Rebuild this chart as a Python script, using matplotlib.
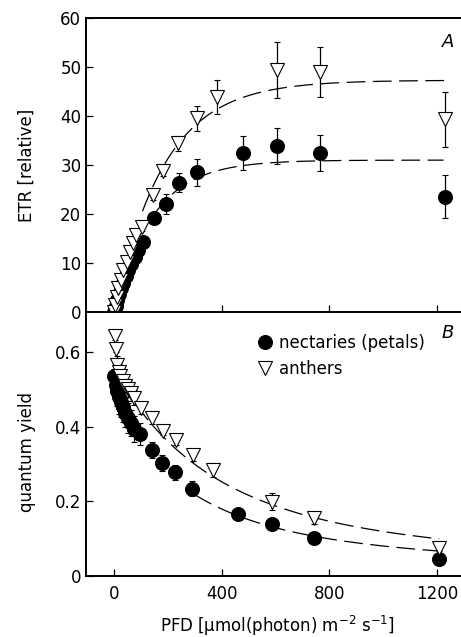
import numpy as np
import matplotlib
matplotlib.use("Agg")
import matplotlib.pyplot as plt

# ---------------- data ----------------
# Panel A: ETR vs PFD
etr_pfd_nect = [0, 6, 12, 18, 25, 33, 42, 52, 63, 76, 90, 108, 148, 191, 242, 309, 480, 604, 765, 1230]
etr_nect = [0, 1.2, 2.4, 3.6, 4.8, 6.0, 7.3, 8.5, 9.8, 11.2, 12.6, 14.2, 19.1, 22.1, 26.4, 28.5, 32.4, 33.9, 32.5, 23.5]
etr_nect_sd = [0.2, 0.3, 0.3, 0.4, 0.4, 0.5, 0.5, 0.6, 0.7, 0.7, 0.8, 0.9, 1.0, 2.0, 2.0, 2.7, 3.5, 3.6, 3.7, 4.4]

etr_pfd_anth = [0, 3, 9, 15, 24, 34, 46, 58, 71, 81, 102, 143, 182, 238, 309, 383, 606, 765, 1230]
etr_anth = [0, 1.4, 3.1, 4.8, 6.5, 8.6, 10.3, 12.3, 14.0, 15.7, 17.4, 23.8, 28.8, 34.4, 39.5, 43.9, 49.4, 48.9, 39.3]
etr_anth_sd = [0.2, 0.3, 0.3, 0.4, 0.5, 0.5, 0.6, 0.6, 0.7, 0.7, 0.8, 0.9, 1.0, 1.6, 2.5, 3.5, 5.8, 5.1, 5.6]

# Panel B: quantum yield vs PFD
qy_pfd_nect = [0, 5, 11, 17, 24, 32, 41, 51, 62, 75, 96, 139, 177, 226, 290, 461, 588, 744, 1209]
qy_nect = [0.535, 0.512, 0.495, 0.48, 0.466, 0.452, 0.438, 0.424, 0.41, 0.395, 0.380, 0.337, 0.302, 0.278, 0.234, 0.166, 0.138, 0.102, 0.044]
qy_nect_sd = [0.02, 0.03, 0.04, 0.045, 0.04, 0.04, 0.04, 0.04, 0.035, 0.035, 0.03, 0.022, 0.022, 0.02, 0.02, 0.012, 0.01, 0.008, 0.008]

qy_pfd_anth = [2, 5, 10, 16, 23, 31, 40, 50, 61, 74, 98, 139, 180, 228, 294, 366, 588, 744, 1209]
qy_anth = [0.644, 0.610, 0.565, 0.548, 0.535, 0.522, 0.51, 0.50, 0.49, 0.478, 0.449, 0.423, 0.389, 0.364, 0.324, 0.284, 0.199, 0.154, 0.074]
qy_anth_sd = [0.01, 0.01, 0.025, 0.02, 0.02, 0.02, 0.02, 0.02, 0.02, 0.02, 0.015, 0.015, 0.012, 0.012, 0.015, 0.018, 0.022, 0.015, 0.008]

# fitted curve parameters
fit_etr_anth = dict(pm=47.3, alpha=0.257, x0=105, x1=1235)
fit_etr_nect = dict(pm=31.0, alpha=0.215, x0=150, x1=1225)
fit_qy_anth = dict(pm=120.0, alpha=0.55, x0=83, x1=1209)
fit_qy_nect = dict(pm=80.0, alpha=0.45, x0=300, x1=1209)

xticks = [0, 400, 800, 1200]
etr_ticks = [0, 10, 20, 30, 40, 50, 60]
qy_ticks = [0, 0.2, 0.4, 0.6]
qy_ticklabels = ["0", "0.2", "0.4", "0.6"]
legend_labels = ["nectaries (petals)", "anthers"]

# ---------------- figure ----------------
plt.rcParams['font.family'] = ['DejaVu Sans']
plt.rcParams['font.size'] = 12
plt.rcParams['mathtext.default'] = 'regular'

W, H = 461, 637
fig = plt.figure(figsize=(W / 100, H / 100), dpi=100)
left_px, right_px = 85.5, 461
top_px, mid_px, bot_px = 18, 312, 575.7
ax1 = fig.add_axes([left_px / W, (H - mid_px) / H, (right_px - left_px) / W, (mid_px - top_px) / H])
ax2 = fig.add_axes([left_px / W, (H - bot_px) / H, (right_px - left_px) / W, (bot_px - mid_px) / H])

xlim = (-107, 1290)
dash = (15, 6)
ms = 10


def etr_curve(x, pm, alpha):
    return pm * (1 - np.exp(-alpha * x / pm))


def qy_curve(x, pm, alpha):
    return pm / x * (1 - np.exp(-alpha * x / pm))


def style(ax):
    ax.set_xlim(*xlim)
    ax.spines['right'].set_visible(False)
    for s in ['left', 'top', 'bottom']:
        ax.spines[s].set_linewidth(1.4)
    ax.tick_params(direction='in', length=5, width=0.9, labelsize=12)
    ax.tick_params(axis='y', pad=3)
    ax.tick_params(axis='x', pad=7)
    ax.set_xticks(xticks)


# Panel A
for f in (fit_etr_nect, fit_etr_anth):
    xx = np.linspace(f['x0'], f['x1'], 300)
    ax1.plot(xx, etr_curve(xx, f['pm'], f['alpha']), color='black', lw=0.9,
             dashes=dash, zorder=1)
ax1.errorbar(etr_pfd_nect, etr_nect, yerr=etr_nect_sd, fmt='o', ms=ms, mfc='black',
             mec='black', mew=0.8, ecolor='black', elinewidth=0.9, capsize=2.5,
             capthick=0.9, zorder=2)
ax1.errorbar(etr_pfd_anth, etr_anth, yerr=etr_anth_sd, fmt='v', ms=ms, mfc='white',
             mec='black', mew=0.8, ecolor='black', elinewidth=0.9, capsize=2.5,
             capthick=0.9, zorder=3)
style(ax1)
ax1.set_ylim(0, 60)
ax1.set_yticks(etr_ticks)
ax1.tick_params(axis='x', labelbottom=False)
ax1.set_ylabel("ETR [relative]", fontsize=12)
ax1.yaxis.set_label_coords(-0.133, 0.5)
ax1.text(0.965, 0.918, "A", transform=ax1.transAxes, fontsize=13, style='italic',
         ha='center', va='center')

# Panel B
for f in (fit_qy_nect, fit_qy_anth):
    xx = np.linspace(f['x0'], f['x1'], 300)
    ax2.plot(xx, qy_curve(xx, f['pm'], f['alpha']), color='black', lw=0.9,
             dashes=dash, zorder=1)
ax2.errorbar(qy_pfd_nect, qy_nect, yerr=qy_nect_sd, fmt='o', ms=ms, mfc='black',
             mec='black', mew=0.8, ecolor='black', elinewidth=0.9, capsize=2.5,
             capthick=0.9, zorder=2)
ax2.errorbar(qy_pfd_anth, qy_anth, yerr=qy_anth_sd, fmt='v', ms=ms, mfc='white',
             mec='black', mew=0.8, ecolor='black', elinewidth=0.9, capsize=2.5,
             capthick=0.9, zorder=3)
style(ax2)
ax2.set_ylim(0, 0.708)
ax2.set_yticks(qy_ticks)
ax2.set_yticklabels(qy_ticklabels)
ax2.set_ylabel("quantum yield", fontsize=12)
ax2.yaxis.set_label_coords(-0.133, 0.47)
ax2.set_xlabel("PFD [µmol(photon) m$^{-2}$ s$^{-1}$]", fontsize=12)
ax2.xaxis.set_label_coords(0.51, -0.145)
ax2.text(0.965, 0.920, "B", transform=ax2.transAxes, fontsize=13, style='italic',
         ha='center', va='center')

lh1 = plt.Line2D([], [], ls='none', marker='o', ms=ms, mfc='black', mec='black', mew=0.8)
lh2 = plt.Line2D([], [], ls='none', marker='v', ms=ms, mfc='white', mec='black', mew=0.8)
ax2.legend([lh1, lh2], legend_labels, loc='upper left', bbox_to_anchor=(0.456, 0.918),
           frameon=False, borderpad=0, borderaxespad=0, handlelength=1.0,
           handletextpad=0.34, labelspacing=0.5, fontsize=12)

fig.savefig("out.png", dpi=100)
